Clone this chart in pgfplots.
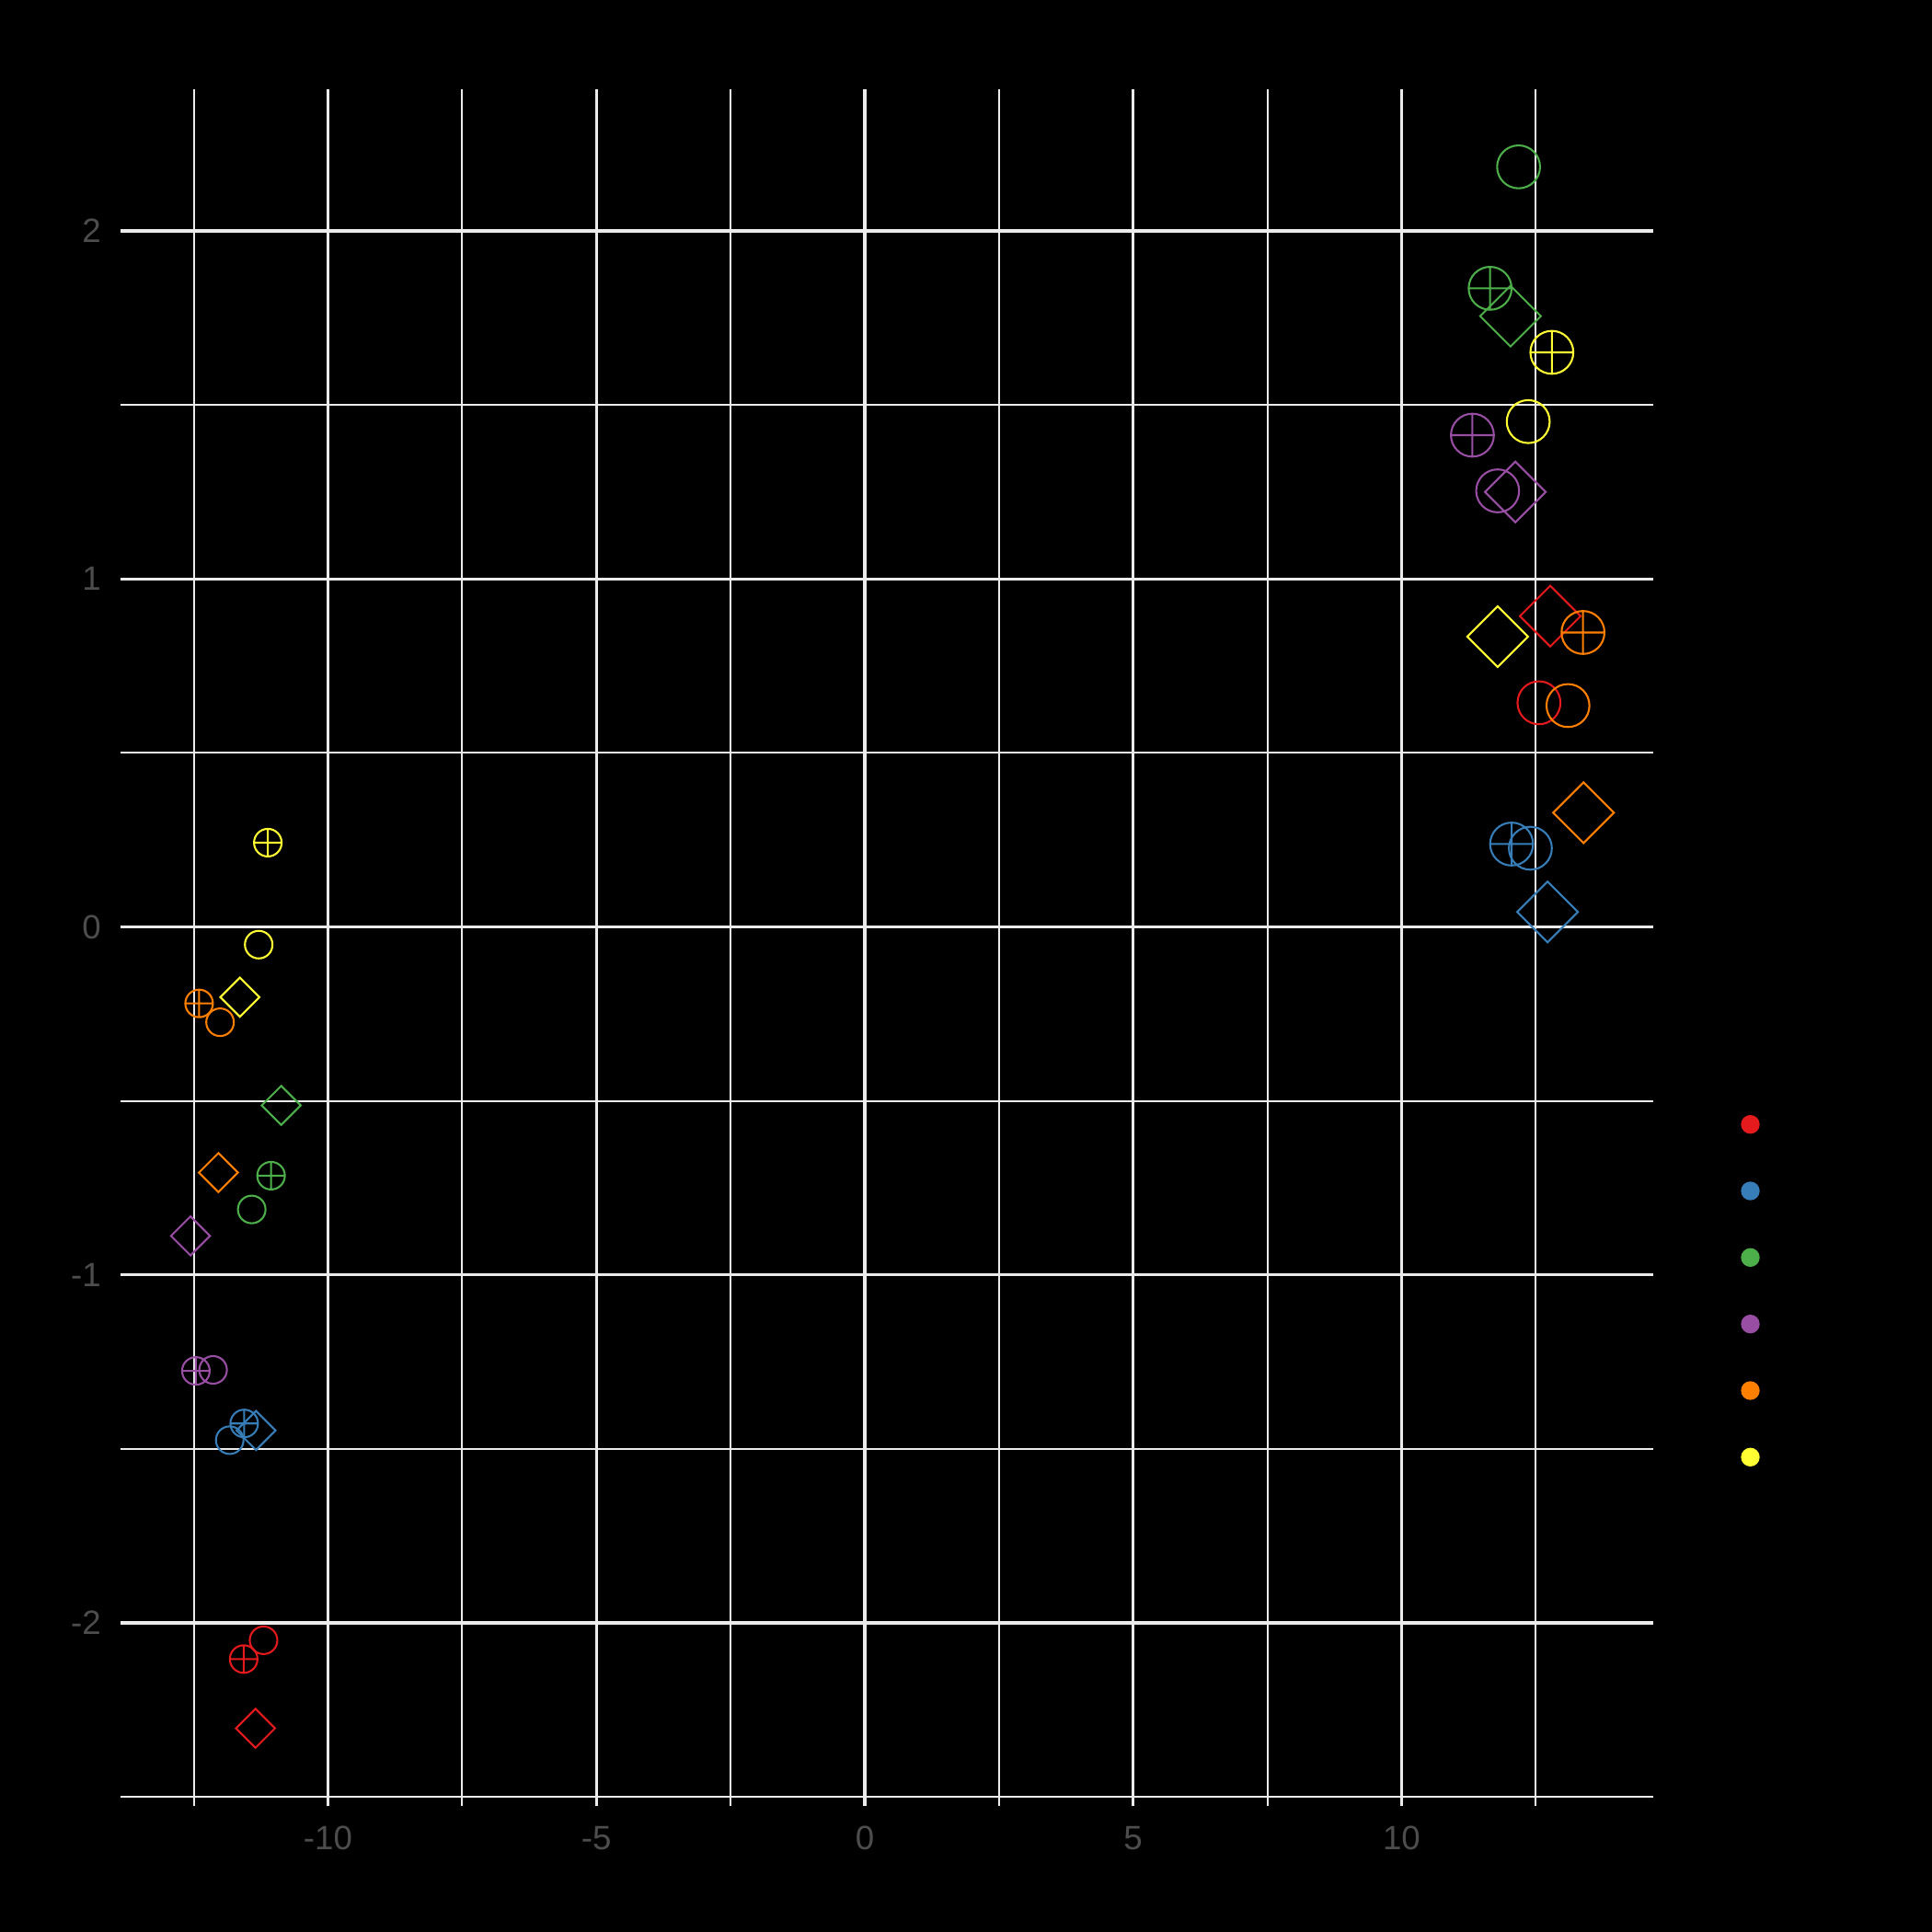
\documentclass[border=0pt]{standalone}
\usepackage{fontspec}
\setmainfont{Liberation Sans}
\usepackage{pgfplots}
\pgfplotsset{compat=1.18}
\definecolor{cR}{HTML}{E41A1C}
\definecolor{cB}{HTML}{377EB8}
\definecolor{cG}{HTML}{4DAF4A}
\definecolor{cP}{HTML}{984EA3}
\definecolor{cO}{HTML}{FF7F00}
\definecolor{cY}{HTML}{FFFF33}
\definecolor{gridc}{HTML}{EBEBEB}
\definecolor{tickc}{HTML}{4D4D4D}
\pgfplotsset{
  pt/.style={only marks, forget plot, line width=0.5pt, mark options={solid, line width=0.5pt, fill=none}},
  sC/.style={pt, mark=o, mark size=3.6pt},
  sX/.style={pt, mark=oplus, mark size=3.6pt},
  sD/.style={pt, mark=square, mark size=3.6pt, mark options={solid, rotate=45, line width=0.5pt, fill=none}},
  lC/.style={pt, mark=o, mark size=5.6pt},
  lX/.style={pt, mark=oplus, mark size=5.6pt},
  lD/.style={pt, mark=square, mark size=5.6pt, mark options={solid, rotate=45, line width=0.5pt, fill=none}},
  key/.style={color=#1, fill=#1, legend image code/.code={\fill[#1] (0pt,0pt) circle (2.24pt);}},
}
\begin{document}
\begin{tikzpicture}
\fill[black] (0pt,0pt) rectangle (504pt,504pt);
\begin{axis}[
  at={(31.5pt,32.8pt)}, anchor=south west,
  scale only axis, width=399.8pt, height=448pt,
  xmin=-13.86, xmax=14.69, ymin=-2.527, ymax=2.408,
  axis line style={draw=none},
  major tick style={draw=none}, minor tick style={draw=none},
  xtick={-10,-5,0,5,10}, xticklabels={-10,-5,0,5,10},
  ytick={-2,-1,0,1,2}, yticklabels={-2,-1,0,1,2},
  minor xtick={-12.5,-7.5,-2.5,2.5,7.5,12.5},
  minor ytick={-2.5,-1.5,-0.5,0.5,1.5},
  grid=both,
  major grid style={line width=0.8pt, color=gridc},
  minor grid style={line width=0.45pt, color=gridc},
  tick label style={font=\fontsize{8.8}{10}\selectfont, color=tickc},
  xticklabel style={anchor=north, inner sep=0pt, yshift=-4.95pt},
  yticklabel style={anchor=east, inner sep=0pt, xshift=-4.95pt},
  legend style={draw=none, fill=none, at={(1.0572,0.4025)}, anchor=north west,
    inner sep=0pt, outer sep=0pt, row sep=12.48pt, nodes={inner sep=0pt}},
  clip=false,
]
% red
\addplot[sC, cR] coordinates {(-11.20,-2.050)};
\addplot[lC, cR] coordinates {(12.56,0.644)};
\addplot[sX, cR] coordinates {(-11.57,-2.104)};
\addplot[sD, cR] coordinates {(-11.35,-2.303)};
\addplot[lD, cR] coordinates {(12.77,0.893)};
% blue
\addplot[sC, cB] coordinates {(-11.83,-1.475)};
\addplot[lC, cB] coordinates {(12.40,0.226)};
\addplot[sX, cB] coordinates {(-11.56,-1.427)};
\addplot[lX, cB] coordinates {(12.05,0.238)};
\addplot[sD, cB] coordinates {(-11.34,-1.447)};
\addplot[lD, cB] coordinates {(12.72,0.043)};
% green
\addplot[sC, cG] coordinates {(-11.42,-0.812)};
\addplot[lC, cG] coordinates {(12.18,2.184)};
\addplot[sX, cG] coordinates {(-11.06,-0.715)};
\addplot[lX, cG] coordinates {(11.65,1.835)};
\addplot[sD, cG] coordinates {(-10.87,-0.513)};
\addplot[lD, cG] coordinates {(12.03,1.755)};
% purple
\addplot[sC, cP] coordinates {(-12.14,-1.273)};
\addplot[lC, cP] coordinates {(11.79,1.253)};
\addplot[sX, cP] coordinates {(-12.46,-1.276)};
\addplot[lX, cP] coordinates {(11.32,1.413)};
\addplot[sD, cP] coordinates {(-12.56,-0.888)};
\addplot[lD, cP] coordinates {(12.12,1.250)};
% orange
\addplot[sC, cO] coordinates {(-12.01,-0.274)};
\addplot[lC, cO] coordinates {(13.10,0.636)};
\addplot[sX, cO] coordinates {(-12.40,-0.220)};
\addplot[lX, cO] coordinates {(13.38,0.846)};
\addplot[sD, cO] coordinates {(-12.04,-0.706)};
\addplot[lD, cO] coordinates {(13.39,0.328)};
% yellow
\addplot[sC, cY] coordinates {(-11.29,-0.051)};
\addplot[lC, cY] coordinates {(12.36,1.452)};
\addplot[sX, cY] coordinates {(-11.12,0.242)};
\addplot[lX, cY] coordinates {(12.80,1.651)};
\addplot[sD, cY] coordinates {(-11.64,-0.202)};
\addplot[lD, cY] coordinates {(11.79,0.834)};
% legend keys
\addlegendimage{key=cR}\addlegendentry{}
\addlegendimage{key=cB}\addlegendentry{}
\addlegendimage{key=cG}\addlegendentry{}
\addlegendimage{key=cP}\addlegendentry{}
\addlegendimage{key=cO}\addlegendentry{}
\addlegendimage{key=cY}\addlegendentry{}
\end{axis}
\end{tikzpicture}
\end{document}
